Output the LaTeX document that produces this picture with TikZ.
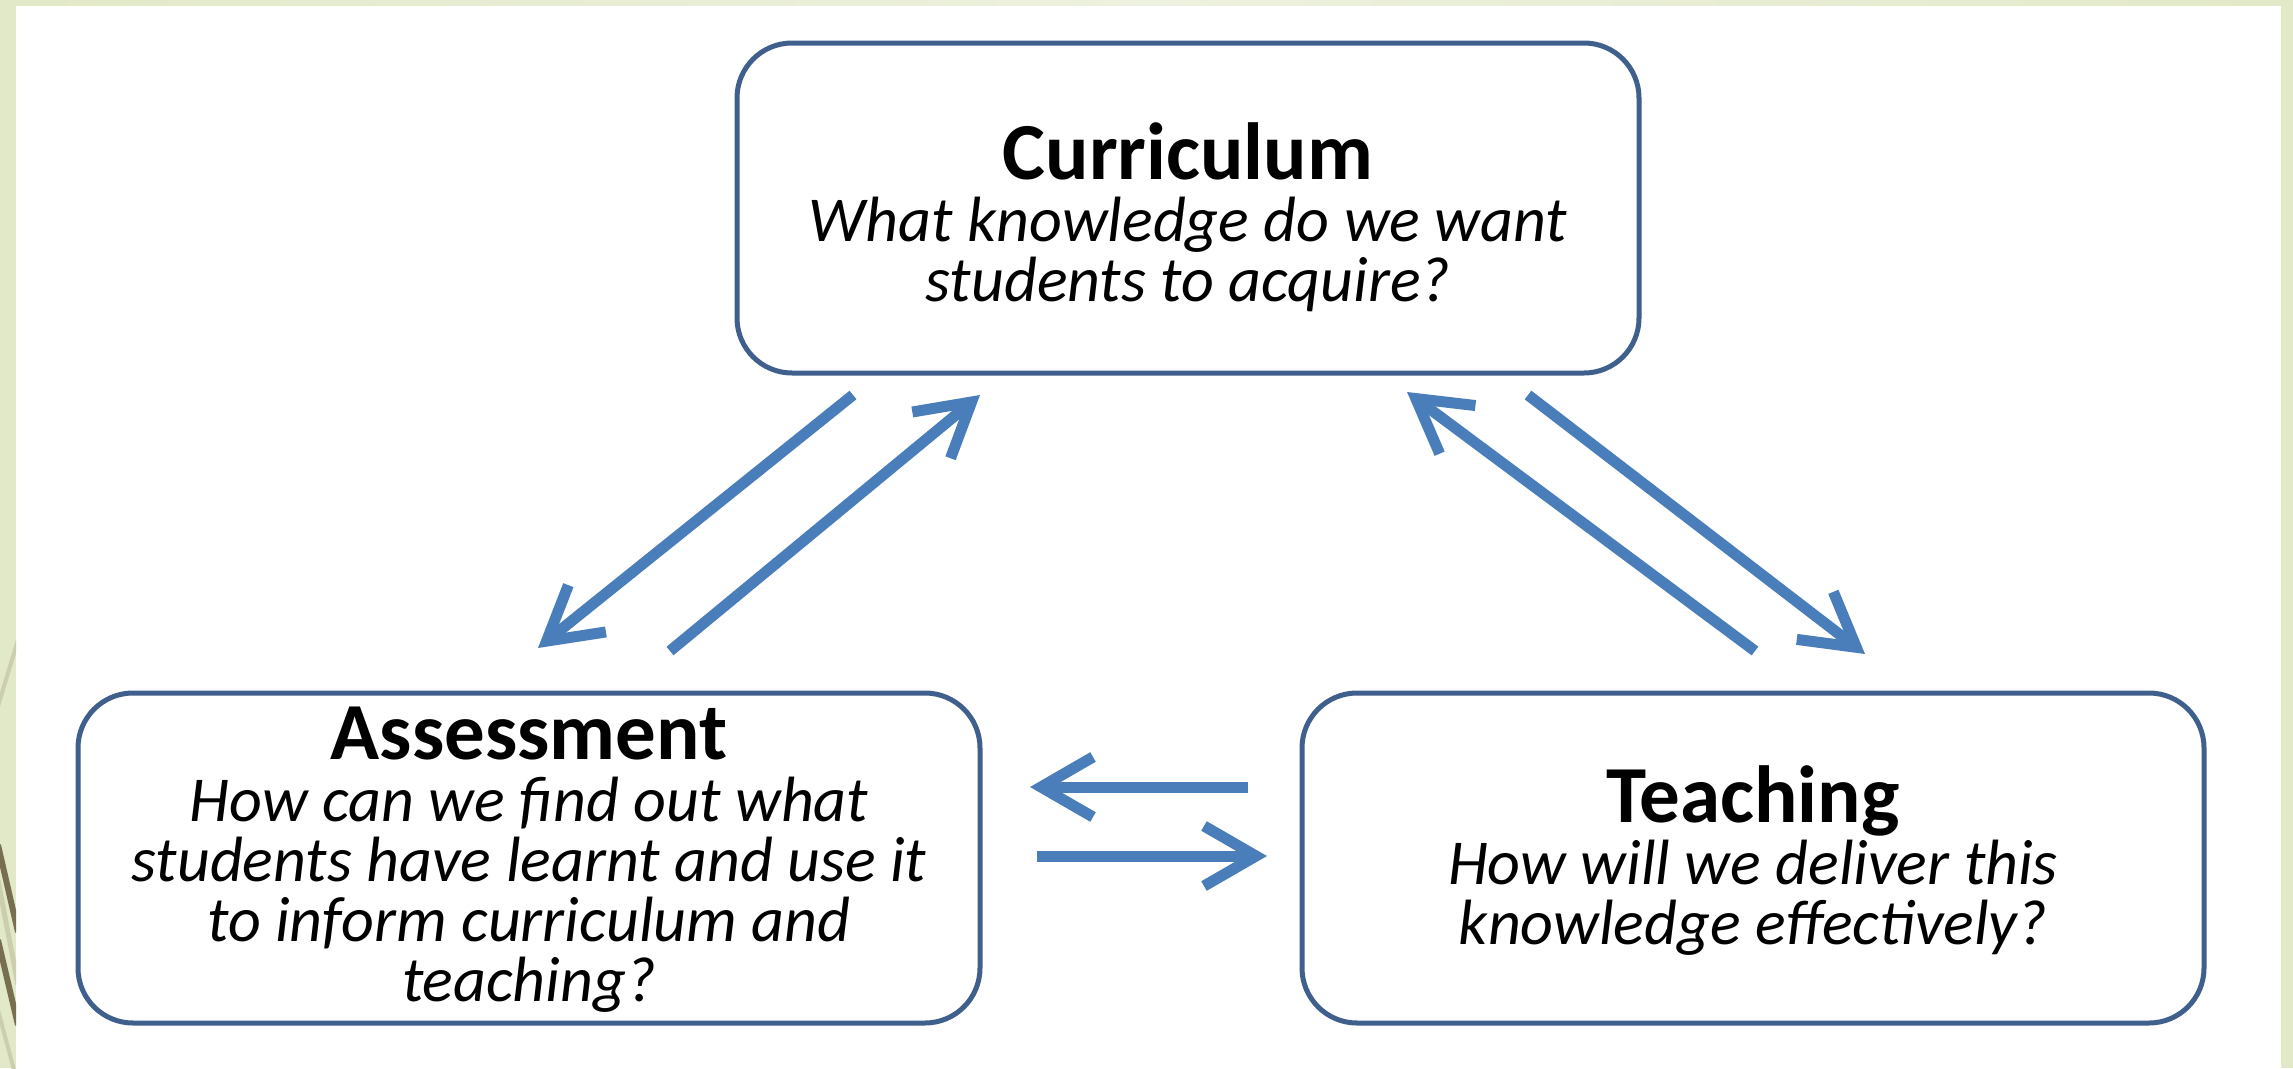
\documentclass[tikz,border=0pt]{standalone}
\usepackage{fontspec}
\setmainfont{Carlito}
\usetikzlibrary{arrows.meta}
\definecolor{bgreen}{HTML}{E2E9C8}
\definecolor{bgreenl}{HTML}{EDF1DF}
\definecolor{boxline}{HTML}{3F5F8C}
\definecolor{arrblue}{HTML}{4A7EBB}
\definecolor{darkstripe}{HTML}{776F50}
\definecolor{lightstripe}{HTML}{CBCFAE}
\newcommand{\nolskip}{\lineskiplimit=-100pt\relax}
\newcommand{\ttlfont}{\upshape\bfseries\fontsize{81}{60}\selectfont}
\begin{document}
\begin{tikzpicture}[x=1pt,y=-1pt,
  box/.style={draw=boxline, line width=5pt, rounded corners=55pt, fill=white,
    minimum width=902pt, minimum height=330pt, inner sep=0pt},
  txt/.style={align=center, inner sep=0pt,
    font=\fontsize{64}{60}\selectfont\itshape, execute at begin node=\nolskip},
  arr/.style={draw=arrblue, line width=11pt,
    -{Straight Barb[length=52pt,width=60pt,line width=11pt,sharp]}}]
\useasboundingbox (0,0) rectangle (2293,1068);
% background
\fill[bgreen] (0,0) rectangle (2293,1068);
\shade[left color=bgreen, right color=bgreenl] (16,0) rectangle (1150,6);
\shade[left color=bgreenl, right color=bgreen] (1150,0) rectangle (2281,6);
\fill[white] (16,6) rectangle (2281,1068);
\begin{scope}
  \clip (0,0) rectangle (16,1068);
  \draw[lightstripe, line width=4pt] (18,640) -- (-2,706);
  \draw[lightstripe, line width=5pt] (-2,880) -- (18,985);
  \draw[darkstripe, line width=6pt] (-2,845) -- (18,932);
  \draw[darkstripe, line width=6pt] (-2,940) -- (18,1025);
  \draw[lightstripe, line width=4pt] (-2,1010) -- (14,1070);
\end{scope}
% boxes
\node[box] (cur) at (1188,208) {};
\node[box] (ass) at (529,858) {};
\node[box] (tea) at (1753,858) {};
% texts
\node[txt] (curtxt) at (1188,217) {{\ttlfont Curriculum}\\[2pt]
  What knowledge do we want\\ students to acquire?};
\node[txt] (asstxt) at (529,860) {{\ttlfont Assessment}\\[2pt]
  How can we find out what\\ students have learnt and use it\\ to inform curriculum and\\ teaching?};
\node[txt] (teatxt) at (1753,861) {{\ttlfont Teaching}\\[2pt]
  How will we deliver this\\ knowledge effectively?};
% arrow ends
\coordinate (a1s) at (853,395);
\coordinate (a1e) at (538,648);
\coordinate (a2s) at (670,651);
\coordinate (a2e) at (980,395);
\coordinate (a3s) at (1755,651);
\coordinate (a3e) at (1407,392);
\coordinate (a4s) at (1528,395);
\coordinate (a4e) at (1865,654);
\coordinate (h1s) at (1248,787);
\coordinate (h1e) at (1030,787);
\coordinate (h2s) at (1037,856);
\coordinate (h2e) at (1267,856);
\draw[arr] (a1s) -- (a1e);
\draw[arr] (a2s) -- (a2e);
\draw[arr] (a3s) -- (a3e);
\draw[arr] (a4s) -- (a4e);
\draw[arr] (h1s) -- (h1e);
\draw[arr] (h2s) -- (h2e);
\end{tikzpicture}
\end{document}
